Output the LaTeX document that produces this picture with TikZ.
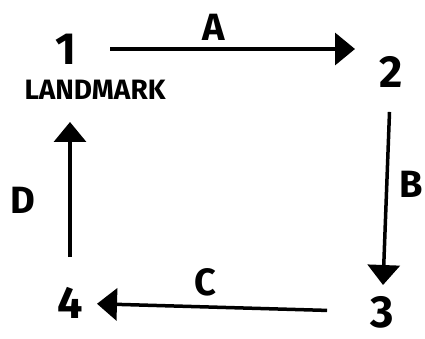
\documentclass[tikz,border=0pt]{standalone}
\usepackage{fontspec}
\setmainfont{Fira Sans}
\usepackage{tikz}
\usetikzlibrary{arrows.meta, positioning}
\tikzstyle{place} = [inner sep=0, font=\fontsize{45}{45}\selectfont\bfseries]
\tikzstyle{edgelabel} = [inner sep=0, font=\fontsize{38}{38}\selectfont\bfseries]
\tikzstyle{flow} = [line width=3.5pt, -{Triangle[length=20pt,width=32pt]}]

\begin{document}
\begin{tikzpicture}[x=1pt, y=-1pt]
				\useasboundingbox (0, 0) rectangle (425, 339);

				\node (One) [place] at (66, 49) {1};
				\node (Landmark) [inner sep=0, font=\fontsize{28}{28}\selectfont\bfseries] at (95, 90) {LANDMARK};
				\node (Two) [place] at (391, 72) {2};
				\node (Three) [place] at (382, 312) {3};
				\node (Four) [place] at (70, 303) {4};

				\draw[flow, shorten <=44pt, shorten >=36pt] (One.center) -- (One.center -| Two.center);
				\node (A) [edgelabel] at (214, 27) {A};

				\draw[flow, xshift=-5pt, shorten <=40pt, shorten >=27pt] (Two.center) -- (Three.center);
				\node (B) [edgelabel] at (411, 184) {B};

				\draw[flow, yshift=-3pt, shorten <=55pt, shorten >=27pt] (Three.center) -- (Four.center);
				\node (C) [edgelabel] at (205, 282) {C};

				\draw[flow, xshift=-7pt, shorten <=46pt, shorten >=73pt] (Four.center) -- (Four.center |- One.center);
				\node (D) [edgelabel] at (23, 200) {D};
			\end{tikzpicture}
\end{document}
